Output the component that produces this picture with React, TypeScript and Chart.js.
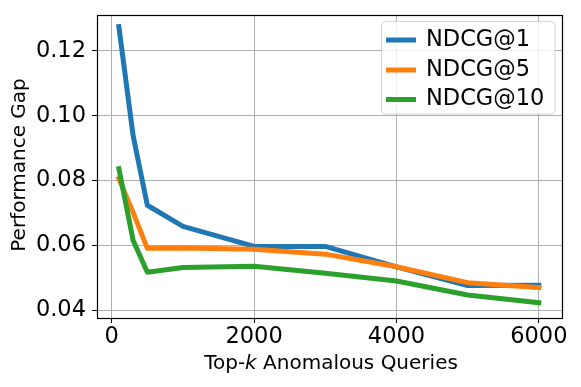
import React, { useEffect, useRef } from "react";
import { Chart, registerables } from "chart.js";

Chart.register(...registerables);

const kValues = [100, 300, 500, 1000, 2000, 3000, 4000, 5000, 6000];
const ndcg1 = [0.1275, 0.0939, 0.0724, 0.0659, 0.0597, 0.0597, 0.0534, 0.0476, 0.0477];
const ndcg5 = [0.0806, 0.0702, 0.0591, 0.0592, 0.0588, 0.0573, 0.0534, 0.0485, 0.047];
const ndcg10 = [0.0837, 0.0616, 0.0517, 0.0532, 0.0536, 0.0514, 0.049, 0.0447, 0.0423];
const xTicks = [0, 2000, 4000, 6000];
const yTicks = [0.04, 0.06, 0.08, 0.1, 0.12];
const seriesLabels = ["NDCG@1", "NDCG@5", "NDCG@10"];
const seriesColors = ["#1f77b4", "#ff7f0e", "#2ca02c"];

const FONT = "'DejaVu Sans', sans-serif";

const overlayPlugin = {
  id: "overlay",
  afterDraw(chart: any) {
    const ctx = chart.ctx as CanvasRenderingContext2D;
    const a = chart.chartArea;
    ctx.save();
    // spines
    ctx.strokeStyle = "#000";
    ctx.lineWidth = 1.2;
    ctx.strokeRect(Math.round(a.left) + 0.5, Math.round(a.top) + 0.5, Math.round(a.right - a.left), Math.round(a.bottom - a.top));

    // legend
    const bx = 381.5, by = 21.5, bw = 173.5, bh = 92.5, r = 4;
    ctx.beginPath();
    ctx.moveTo(bx + r, by);
    ctx.lineTo(bx + bw - r, by);
    ctx.arcTo(bx + bw, by, bx + bw, by + r, r);
    ctx.lineTo(bx + bw, by + bh - r);
    ctx.arcTo(bx + bw, by + bh, bx + bw - r, by + bh, r);
    ctx.lineTo(bx + r, by + bh);
    ctx.arcTo(bx, by + bh, bx, by + bh - r, r);
    ctx.lineTo(bx, by + r);
    ctx.arcTo(bx, by, bx + r, by, r);
    ctx.closePath();
    ctx.fillStyle = "rgba(255,255,255,0.8)";
    ctx.fill();
    ctx.strokeStyle = "rgba(204,204,204,0.8)";
    ctx.lineWidth = 1;
    ctx.stroke();

    const rows = [40, 70, 99.5];
    ctx.font = `22.5px ${FONT}`;
    ctx.textBaseline = "alphabetic";
    ctx.textAlign = "left";
    chart.data.datasets.forEach((ds: any, i: number) => {
      ctx.strokeStyle = ds.borderColor;
      ctx.lineWidth = 5;
      ctx.lineCap = "butt";
      ctx.beginPath();
      ctx.moveTo(386, rows[i]);
      ctx.lineTo(416, rows[i]);
      ctx.stroke();
      ctx.fillStyle = "#000";
      ctx.fillText(ds.label, 426, rows[i] + 5.5);
    });

    // x title with italic k
    const parts = [
      { t: "Top-", f: `20px ${FONT}` },
      { t: "k", f: `italic 20px ${FONT}` },
      { t: " Anomalous Queries", f: `20px ${FONT}` },
    ];
    let total = 0;
    parts.forEach((p) => {
      ctx.font = p.f;
      total += ctx.measureText(p.t).width;
    });
    let x = 331 - total / 2;
    ctx.fillStyle = "#000";
    parts.forEach((p) => {
      ctx.font = p.f;
      ctx.fillText(p.t, x, 369);
      x += ctx.measureText(p.t).width;
    });

    // y title
    ctx.translate(25, 165);
    ctx.rotate(-Math.PI / 2);
    ctx.font = `20px ${FONT}`;
    ctx.textAlign = "center";
    ctx.fillText("Performance Gap", 0, 0);
    ctx.restore();
  },
};

export default function App() {
  const ref = useRef<HTMLCanvasElement | null>(null);
  useEffect(() => {
    if (!ref.current) return;
    const chart = new Chart(ref.current, {
      type: "line",
      data: {
        datasets: [ndcg1, ndcg5, ndcg10].map((vals, i) => ({
          label: seriesLabels[i],
          data: kValues.map((k, j) => ({ x: k, y: vals[j] })),
          borderColor: seriesColors[i],
          backgroundColor: seriesColors[i],
          borderWidth: 5,
          pointRadius: 0,
          tension: 0,
          borderCapStyle: "square",
          borderJoinStyle: "round",
          order: 3 - i,
        })),
      },
      options: {
        animation: false,
        responsive: false,
        layout: { padding: { top: 15, right: 19, left: 0, bottom: 0 } },
        plugins: { legend: { display: false }, tooltip: { enabled: false } },
        scales: {
          x: {
            type: "linear",
            min: -207,
            max: 6325,
            afterBuildTicks: (s: any) => {
              s.ticks = xTicks.map((v) => ({ value: v }));
            },
            afterFit: (s: any) => {
              s.height = 69;
              s.paddingLeft = 0;
              s.paddingRight = 0;
            },
            ticks: {
              font: { family: FONT, size: 22.5 },
              color: "#000",
              padding: 1,
              maxRotation: 0,
              callback: (v: any) => String(v),
            },
            grid: { color: "#b0b0b0", lineWidth: 1, tickColor: "#000", tickLength: 5, drawTicks: true },
            border: { display: false },
          },
          y: {
            type: "linear",
            min: 0.0376,
            max: 0.1311,
            afterBuildTicks: (s: any) => {
              s.ticks = yTicks.map((v) => ({ value: v }));
            },
            afterFit: (s: any) => {
              s.width = 97;
              s.paddingTop = 0;
              s.paddingBottom = 0;
            },
            ticks: {
              font: { family: FONT, size: 22.5 },
              color: "#000",
              padding: 6,
              callback: (v: any) => Number(v).toFixed(2),
            },
            grid: { color: "#b0b0b0", lineWidth: 1, tickColor: "#000", tickLength: 5, drawTicks: true },
            border: { display: false },
          },
        },
      },
      plugins: [overlayPlugin],
    } as any);
    return () => chart.destroy();
  }, []);
  return (
    <div style={{ position: "fixed", left: 0, top: 0, width: 581, height: 387, background: "#fff" }}>
      <canvas ref={ref} width={581} height={387} style={{ width: 581, height: 387 }} />
    </div>
  );
}
